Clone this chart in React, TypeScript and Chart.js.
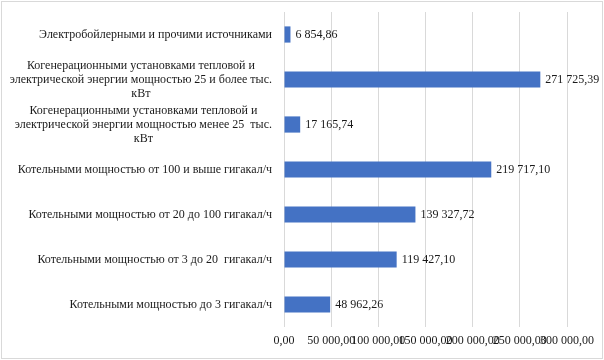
import React, { useEffect, useRef } from "react";
import { Chart, registerables } from "chart.js";

Chart.register(...registerables);

const categories: (string | string[])[] = [
  "Электробойлерными и прочими источниками",
  ["Когенерационными установками тепловой и", "электрической энергии мощностью 25 и более тыс.", "кВт"],
  ["Когенерационными установками тепловой и", "электрической энергии мощностью менее 25  тыс.", "кВт"],
  "Котельными мощностью от 100 и выше гигакал/ч",
  "Котельными мощностью от 20 до 100 гигакал/ч",
  "Котельными мощностью от 3 до 20  гигакал/ч",
  "Котельными мощностью до 3 гигакал/ч",
];

const values: number[] = [6854.86, 271725.39, 17165.74, 219717.1, 139327.72, 119427.1, 48962.26];

const xTicks: number[] = [0, 50000, 100000, 150000, 200000, 250000, 300000];

const FONT = "'Liberation Serif', 'Times New Roman', serif";

function fmt(v: number): string {
  const [i, d] = v.toFixed(2).split(".");
  const ip = i.replace(/\B(?=(\d{3})+(?!\d))/g, " ");
  return ip + "," + d;
}

const framePlugin = {
  id: "frame",
  beforeDraw(chart: any) {
    const ctx = chart.ctx;
    ctx.save();
    ctx.fillStyle = "#ffffff";
    ctx.fillRect(0, 0, chart.width, chart.height);
    ctx.strokeStyle = "#d9d9d9";
    ctx.lineWidth = 1;
    ctx.strokeRect(1.5, 1.5, chart.width - 3, chart.height - 3);
    ctx.restore();
  },
};

const labelsPlugin = {
  id: "customLabels",
  afterDraw(chart: any) {
    const ctx = chart.ctx;
    const yScale = chart.scales.y;
    ctx.save();
    ctx.font = `12px ${FONT}`;
    ctx.fillStyle = "#1a1a1a";
    ctx.textBaseline = "middle";
    ctx.textAlign = "center";
    const lineH = 14;
    const right = yScale.right - 12;
    categories.forEach((c, i) => {
      const lines = Array.isArray(c) ? c : [c];
      const w = Math.max(...lines.map((l) => ctx.measureText(l).width));
      const cx = right - w / 2;
      const cy = yScale.getPixelForTick(i);
      const start = cy - ((lines.length - 1) * lineH) / 2;
      lines.forEach((l, k) => ctx.fillText(l, cx, start + k * lineH));
    });
    // data labels
    const meta = chart.getDatasetMeta(0);
    ctx.textAlign = "left";
    meta.data.forEach((bar: any, i: number) => {
      ctx.fillText(fmt(values[i]), bar.x + 5, bar.y);
    });
    ctx.restore();
  },
};

export default function App() {
  const ref = useRef<HTMLCanvasElement | null>(null);
  useEffect(() => {
    document.body.style.margin = "0";
    if (!ref.current) return;
    const chart = new Chart(ref.current, {
      type: "bar",
      data: {
        labels: categories as any,
        datasets: [
          {
            data: values,
            backgroundColor: "#4472C4",
            borderWidth: 0,
            barPercentage: 0.36,
            categoryPercentage: 1,
          },
        ],
      },
      options: {
        indexAxis: "y",
        animation: false,
        responsive: false,
        maintainAspectRatio: false,
        devicePixelRatio: 1,
        layout: { padding: { top: 12, right: 37, left: 0, bottom: 0 } },
        plugins: {
          legend: { display: false },
          tooltip: { enabled: false },
        },
        scales: {
          x: {
            min: 0,
            max: 300000,
            afterFit(scale: any) {
              scale.height = 33;
            },
            afterBuildTicks(scale: any) {
              scale.ticks = xTicks.map((v) => ({ value: v }));
            },
            ticks: {
              autoSkip: false,
              maxRotation: 0,
              minRotation: 0,
              padding: 7,
              color: "#1a1a1a",
              font: { family: FONT, size: 12 },
              callback: (v: any) => fmt(Number(v)),
            },
            grid: { color: "#d9d9d9", drawTicks: false },
            border: { display: false },
          },
          y: {
            afterFit(scale: any) {
              scale.width = 284;
            },
            ticks: { display: false },
            grid: { display: false, drawTicks: false },
            border: { display: false },
          },
        },
      },
      plugins: [framePlugin, labelsPlugin],
    });
    return () => chart.destroy();
  }, []);
  return (
    <div style={{ width: 604, height: 360 }}>
      <canvas ref={ref} width={604} height={360} style={{ display: "block" }} />
    </div>
  );
}
